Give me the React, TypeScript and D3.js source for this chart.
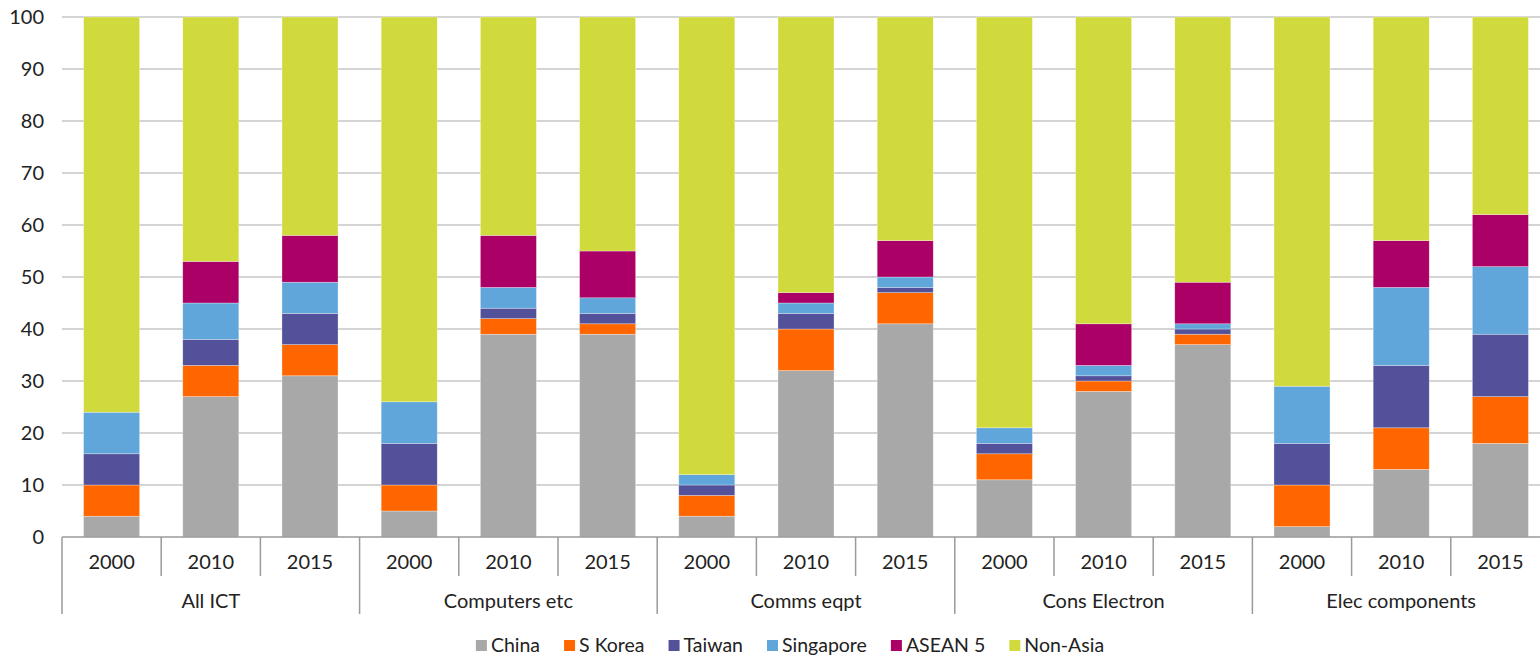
import React, { useRef, useEffect } from "react";
import * as d3 from "d3";

const categories = ["All ICT", "Computers etc", "Comms eqpt", "Cons Electron", "Elec components"];
const years = ["2000", "2010", "2015"];
const seriesNames = ["China", "S Korea", "Taiwan", "Singapore", "ASEAN 5", "Non-Asia"];
const colors = ["#a8a8a8", "#ff6600", "#525199", "#60a6da", "#ab0066", "#d1da3c"];

// one value per bar, bars in order category x year
const china = [4, 27, 31, 5, 39, 39, 4, 32, 41, 11, 28, 37, 2, 13, 18];
const sKorea = [6, 6, 6, 5, 3, 2, 4, 8, 6, 5, 2, 2, 8, 8, 9];
const taiwan = [6, 5, 6, 8, 2, 2, 2, 3, 1, 2, 1, 1, 8, 12, 12];
const singapore = [8, 7, 6, 8, 4, 3, 2, 2, 2, 3, 2, 1, 11, 15, 13];
const asean5 = [0, 8, 9, 0, 10, 9, 0, 2, 7, 0, 8, 8, 0, 9, 10];
const nonAsia = [76, 47, 42, 74, 42, 45, 88, 53, 43, 79, 59, 51, 71, 43, 38];

const yTicks = [0, 10, 20, 30, 40, 50, 60, 70, 80, 90, 100];

const W = 1540;
const H = 656;
const FONT = "Lato, 'Noto Sans', sans-serif";

export default function App() {
  const svgRef = useRef<SVGSVGElement>(null);

  useEffect(() => {
    if (!svgRef.current) return;
    const svg = d3.select(svgRef.current);
    svg.selectAll("*").remove();

    // plot runs a little past the right edge of the picture
    const left = 62;
    const right = 1550;
    const top = 17;
    const bottom = 537;

    const keys = categories.flatMap((c) => years.map((y) => `${c}|${y}`));
    const rows = keys.map((k, i) => ({
      key: k,
      China: china[i],
      "S Korea": sKorea[i],
      Taiwan: taiwan[i],
      Singapore: singapore[i],
      "ASEAN 5": asean5[i],
      "Non-Asia": nonAsia[i],
    }));

    const x = d3.scaleBand().domain(keys).range([left, right]).paddingInner(0.435).paddingOuter(0.2175);
    const xOuter = d3.scaleBand().domain(keys).range([left, right]);
    const y = d3.scaleLinear().domain([0, 100]).range([bottom, top]);

    const stack = d3.stack<any>().keys(seriesNames);
    const stacked = stack(rows);

    // gridlines
    svg
      .append("g")
      .selectAll("line")
      .data(yTicks.filter((t) => t > 0))
      .enter()
      .append("line")
      .attr("x1", left)
      .attr("x2", right)
      .attr("y1", (d) => y(d))
      .attr("y2", (d) => y(d))
      .attr("stroke", "#c6c6c6")
      .attr("stroke-width", 1.5);

    // y labels
    svg
      .append("g")
      .selectAll("text")
      .data(yTicks)
      .enter()
      .append("text")
      .attr("x", 44)
      .attr("y", (d) => y(d))
      .attr("dy", "0.35em")
      .attr("text-anchor", "end")
      .attr("font-family", FONT)
      .attr("font-size", 20)
      .attr("fill", "#222")
      .text((d) => d);

    // bars
    svg
      .append("g")
      .selectAll("g")
      .data(stacked)
      .enter()
      .append("g")
      .attr("fill", (_, i) => colors[i])
      .selectAll("rect")
      .data((d) => d)
      .enter()
      .append("rect")
      .attr("x", (d: any) => x(d.data.key)!)
      .attr("width", x.bandwidth())
      .attr("y", (d) => y(d[1]))
      .attr("height", (d) => y(d[0]) - y(d[1]))
      .attr("stroke", "rgba(255,255,255,0.5)")
      .attr("stroke-width", 0.6);

    // x axis
    const axis = svg.append("g").attr("stroke", "#9a9a9a").attr("stroke-width", 1.5);
    axis.append("line").attr("x1", left).attr("x2", right).attr("y1", bottom).attr("y2", bottom);
    keys.forEach((k, i) => {
      const x0 = xOuter(k)!;
      const isCat = i % years.length === 0;
      axis
        .append("line")
        .attr("x1", x0)
        .attr("x2", x0)
        .attr("y1", bottom)
        .attr("y2", isCat ? 614 : 576);
    });

    svg
      .append("g")
      .selectAll("text")
      .data(keys)
      .enter()
      .append("text")
      .attr("x", (d) => xOuter(d)! + xOuter.bandwidth() / 2)
      .attr("y", 569)
      .attr("text-anchor", "middle")
      .attr("font-family", FONT)
      .attr("font-size", 20)
      .attr("fill", "#222")
      .text((d) => d.split("|")[1]);

    const catWidth = xOuter.bandwidth() * years.length;
    svg
      .append("g")
      .selectAll("text")
      .data(categories)
      .enter()
      .append("text")
      .attr("x", (_, i) => left + catWidth * i + catWidth / 2)
      .attr("y", 608)
      .attr("text-anchor", "middle")
      .attr("font-family", FONT)
      .attr("font-size", 20)
      .attr("fill", "#222")
      .text((d) => d);

    // legend
    const legend = svg.append("g");
    let cx = 0;
    seriesNames.forEach((name, i) => {
      const g = legend.append("g").attr("transform", `translate(${cx},0)`);
      g.append("rect").attr("x", 0).attr("y", 640).attr("width", 11).attr("height", 11).attr("fill", colors[i]);
      const t = g
        .append("text")
        .attr("x", 15)
        .attr("y", 652)
        .attr("font-family", FONT)
        .attr("font-size", 19.5)
        .attr("fill", "#222")
        .text(name);
      const tw = (t.node() as SVGTextElement).getComputedTextLength();
      cx += 15 + tw + 24;
    });
    const total = cx - 24;
    legend.attr("transform", `translate(${790 - total / 2},0)`);
  }, []);

  return (
    <svg
      ref={svgRef}
      width={W}
      height={H}
      style={{ position: "absolute", left: 0, top: 0, background: "#fff" }}
    ></svg>
  );
}
